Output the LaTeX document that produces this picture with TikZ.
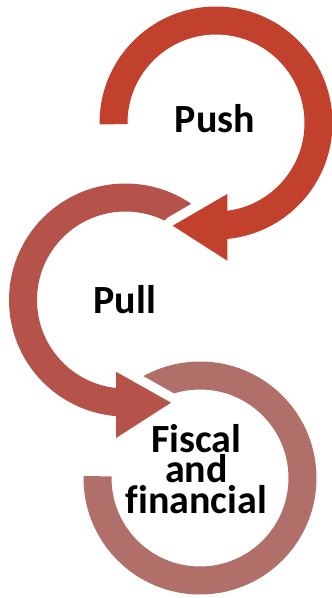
\documentclass[tikz,border=0pt]{standalone}
\usepackage{fontspec}
\setmainfont{Carlito}[Ligatures=NoCommon]
\usetikzlibrary{calc}
\definecolor{pushc}{RGB}{193,65,44}
\definecolor{pullc}{RGB}{181,82,74}
\definecolor{fiscc}{RGB}{176,111,104}
\begin{document}
\begin{tikzpicture}[x=1pt,y=1pt,
  lbl/.style={font=\fontsize{40}{30.5}\selectfont\bfseries, text=black, inner sep=0pt, align=center},
  gapline/.style={draw=white, line width=19pt, line join=round}]
\useasboundingbox (0,0) rectangle (332,-598);
\coordinate (P) at (216,-123);
\coordinate (L) at (125.5,-300);
\coordinate (F) at (200,-478);
% Fiscal ring
\fill[fiscc] ($(F)+(140:116.5)$) arc[start angle=140,end angle=-181,radius=116.5]
  -- ($(F)+(-181:88.5)$) arc[start angle=-181,end angle=140,radius=88.5] -- cycle;
% Pull arrow
\coordinate (Lh1) at (116,-371.7);
\coordinate (Lt) at (171,-402.7);
\coordinate (Lh2) at (116,-438);
\draw[gapline] (Lh1) -- (Lt) -- (Lh2) -- cycle;
\fill[pullc] ($(L)+(45:116.5)$) arc[start angle=45,end angle=267,radius=116.5]
  -- ($(L)+(267:88.5)$) arc[start angle=267,end angle=45,radius=88.5] -- cycle;
\fill[pullc] (Lh1) -- (Lt) -- (Lh2) -- cycle;
% Push arrow
\coordinate (Ph1) at (227.3,-194);
\coordinate (Pt) at (172.7,-225.7);
\coordinate (Ph2) at (227.3,-260.7);
\draw[gapline] (Ph1) -- (Pt) -- (Ph2) -- cycle;
\fill[pushc] ($(P)+(180.7:116.5)$) arc[start angle=180.7,end angle=-86,radius=116.5]
  -- ($(P)+(-86:88.5)$) arc[start angle=-86,end angle=180.7,radius=88.5] -- cycle;
\fill[pushc] (Ph1) -- (Pt) -- (Ph2) -- cycle;
% Labels
\node[lbl, anchor=base] (push) at (215,-132.7) {Push};
\node[lbl, anchor=base] (pull) at (124.7,-313.3) {Pull};
\node[lbl, anchor=base] (fisc) at (196.4,-513) {Fiscal\\and\\financial};
\end{tikzpicture}
\end{document}
